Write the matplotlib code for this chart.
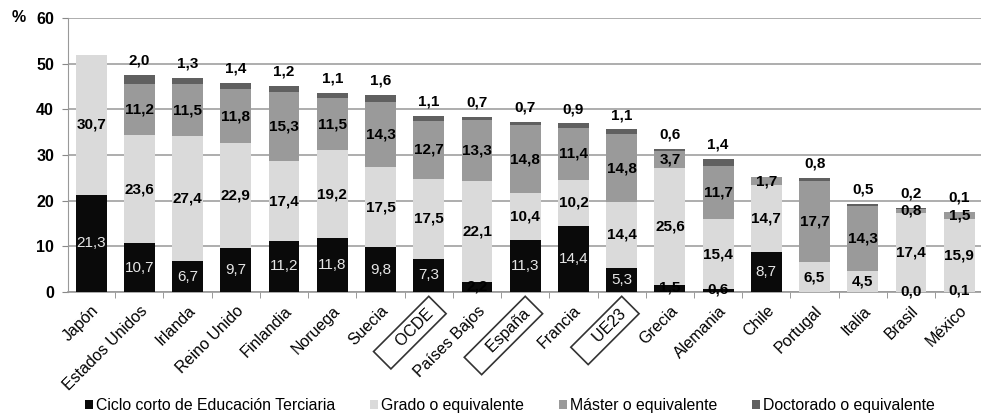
import numpy as np
import matplotlib
matplotlib.use('Agg')
import matplotlib.pyplot as plt
from matplotlib.patches import Patch

plt.rcParams['font.family'] = ['Liberation Sans', 'DejaVu Sans']

# Población por nivel de educación terciaria (%)
paises = ['Japón', 'Estados Unidos', 'Irlanda', 'Reino Unido', 'Finlandia', 'Noruega',
          'Suecia', 'OCDE', 'Países Bajos', 'España', 'Francia', 'UE23', 'Grecia',
          'Alemania', 'Chile', 'Portugal', 'Italia', 'Brasil', 'México']
ciclo_corto = [21.3, 10.7, 6.7, 9.7, 11.2, 11.8, 9.8, 7.3, 2.2, 11.3, 14.4, 5.3, 1.5,
               0.6, 8.7, np.nan, np.nan, 0.0, 0.1]
grado = [30.7, 23.6, 27.4, 22.9, 17.4, 19.2, 17.5, 17.5, 22.1, 10.4, 10.2, 14.4, 25.6,
         15.4, 14.7, 6.5, 4.5, 17.4, 15.9]
master = [np.nan, 11.2, 11.5, 11.8, 15.3, 11.5, 14.3, 12.7, 13.3, 14.8, 11.4, 14.8, 3.7,
          11.7, 1.7, 17.7, 14.3, 0.8, 1.5]
doctorado = [np.nan, 2.0, 1.3, 1.4, 1.2, 1.1, 1.6, 1.1, 0.7, 0.7, 0.9, 1.1, 0.6,
             1.4, np.nan, 0.8, 0.5, 0.2, 0.1]
recuadro = ['OCDE', 'España', 'UE23']

series = [
    ('Ciclo corto de Educación Terciaria', ciclo_corto, '#0a0a0a'),
    ('Grado o equivalente', grado, '#dadada'),
    ('Máster o equivalente', master, '#9a9a9a'),
    ('Doctorado o equivalente', doctorado, '#606060'),
]

def fmt(v):
    return f'{v:.1f}'.replace('.', ',')

fig = plt.figure(figsize=(9.81, 4.17), dpi=100)
ax = fig.add_axes([0.0693, 0.2998, 0.9307, 0.657])

x = np.arange(len(paises))
ancho = 0.64
base = np.zeros(len(paises))

for i, (nombre, valores, color) in enumerate(series):
    v = np.nan_to_num(np.array(valores, dtype=float))
    ax.bar(x, v, ancho, bottom=base, color=color, edgecolor='none', zorder=3)
    for j, val in enumerate(valores):
        if np.isnan(val):
            continue
        if i == 0 and val >= 3:
            # etiquetas blancas sobre el negro
            ax.text(x[j], base[j] + val / 2, fmt(val), ha='center', va='center',
                    color='#e6e6e6', fontsize=11, zorder=5)
        elif i == 0:
            ax.text(x[j], base[j] + val / 2 + 0.2, fmt(val), ha='center', va='center',
                    color='black', fontsize=11, fontweight='bold', zorder=5)
        elif i == 3:
            # doctorado: encima de la barra
            ax.text(x[j], base[j] + val + 3.1, fmt(val), ha='center', va='center',
                    color='black', fontsize=11, fontweight='bold', zorder=5)
        else:
            ax.text(x[j], base[j] + val / 2, fmt(val), ha='center', va='center',
                    color='black', fontsize=11, fontweight='bold', zorder=5)
    base += v

ax.set_ylim(0, 60)
ax.set_xlim(-0.48, 18.45)
ax.set_yticks(range(0, 61, 10))
ax.tick_params(axis='y', labelsize=11.5, length=4, color='#888888', pad=6)
for t in ax.get_yticklabels():
    t.set_fontweight('bold')
ax.grid(axis='y', color='#a0a0a0', linewidth=1.2, zorder=0)

ax.set_xticks(x)
ax.set_xticklabels([('    ' + p + ' ') if p in recuadro else p for p in paises],
                   rotation=45, ha='right', rotation_mode='anchor', fontsize=11.5)
ax.tick_params(axis='x', length=0, pad=8)
ax.set_xticks(x[:-1] + 0.5, minor=True)
ax.tick_params(axis='x', which='minor', length=4, color='#888888')
for t in ax.get_xticklabels():
    if t.get_text().strip() in recuadro:
        t.set_bbox(dict(boxstyle='square,pad=0.3', facecolor='none', edgecolor='#333333',
                        linewidth=1.2))

for lado in ['top', 'right']:
    ax.spines[lado].set_visible(False)
ax.spines['left'].set_color('#999999')
ax.spines['bottom'].set_color('#999999')
ax.spines['bottom'].set_linewidth(1.2)

fig.text(0.012, 0.957, '%', fontsize=11.5, fontweight='bold', va='center')

handles = [Patch(facecolor=c, edgecolor='none') for _, _, c in series]
fig.legend(handles, [s[0] for s in series], loc='lower center', ncol=4, frameon=False,
           bbox_to_anchor=(0.52, -0.025), fontsize=11.4, handlelength=0.5, handleheight=0.5,
           handletextpad=0.2, columnspacing=2.2)

fig.savefig('out.png', dpi=100)
